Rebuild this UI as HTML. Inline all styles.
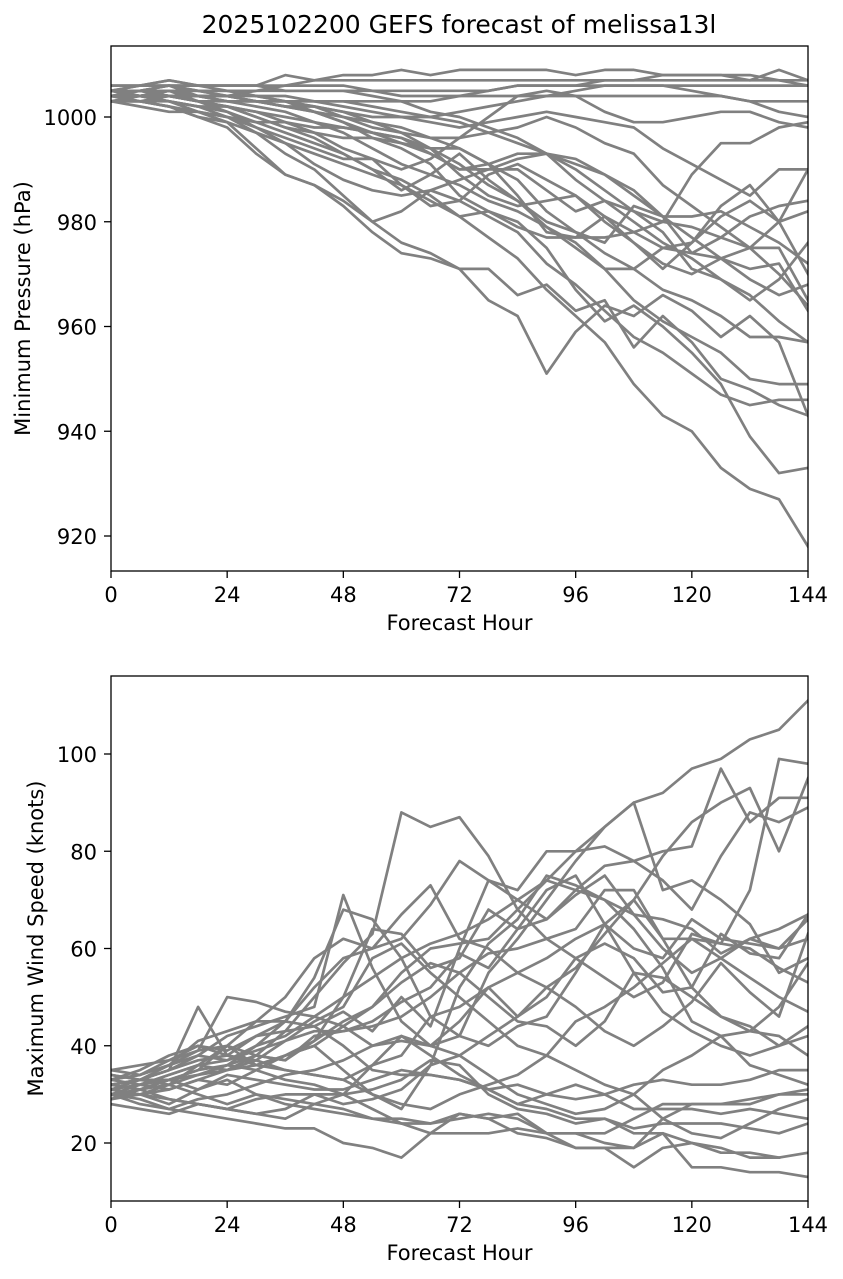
<!DOCTYPE html>
<html><head><meta charset="utf-8">
<style>
body{margin:0;background:#fff;}
svg{display:block;font-family:"DejaVu Sans","Liberation Sans",sans-serif;}
</style></head>
<body>
<svg id="chart" width="843" height="1279">
<text x="459" y="33" font-size="25" text-anchor="middle">2025102200 GEFS forecast of melissa13l</text>
</svg>
<script>
const hours=[0,6,12,18,24,30,36,42,48,54,60,66,72,78,84,90,96,102,108,114,120,126,132,138,144];
const hourTicks=[0,24,48,72,96,120,144];
const presTicks=[920,940,960,980,1000];
const windTicks=[20,40,60,80,100];
const presMembers=[
[1004,1003,1002,1000,999,997,995,993,991,989,987,984,981,977,973,967,962,957,949,943,940,933,929,927,918],
[1004,1003,1002,1000,998,993,989,987,983,978,974,973,971,965,962,951,959,964,962,966,963,958,962,957,943],
[1005,1004,1003,1002,1000,997,993,990,985,980,982,986,984,981,978,972,968,963,958,955,951,947,945,946,946],
[1003,1002,1001,1001,999,994,989,987,984,980,976,974,971,971,966,968,963,965,956,962,957,950,948,945,943],
[1005,1004,1005,1003,1002,1000,998,996,993,990,988,985,981,982,980,975,967,961,964,960,955,949,939,932,933],
[1004,1005,1006,1004,1003,1002,1001,999,997,994,991,989,987,984,982,979,975,971,965,961,958,955,950,949,949],
[1005,1006,1007,1006,1005,1004,1003,1001,999,997,995,993,990,990,992,993,988,984,980,976,973,969,966,961,957],
[1004,1005,1006,1005,1004,1003,1003,1002,1000,998,997,996,996,997,998,1000,998,995,993,987,983,979,975,970,964],
[1003,1004,1005,1005,1004,1004,1004,1003,1003,1002,1001,1000,999,997,995,993,991,989,985,981,977,973,969,966,968],
[1005,1005,1004,1003,1002,1000,998,997,996,996,995,994,994,991,985,978,977,981,978,975,974,977,981,983,984],
[1004,1004,1003,1002,1001,999,997,995,993,990,986,989,993,988,984,980,978,976,983,981,981,982,979,976,972],
[1005,1006,1006,1005,1005,1004,1003,1002,1001,999,997,994,989,985,983,984,985,981,976,972,970,973,975,980,982],
[1006,1006,1007,1006,1006,1006,1005,1005,1005,1004,1003,1001,1000,998,996,993,990,986,982,978,971,969,965,969,976],
[1003,1003,1003,1002,1002,1001,1000,999,998,997,996,994,991,987,984,979,976,971,971,975,976,983,987,980,990],
[1004,1004,1004,1003,1003,1003,1002,1001,1000,999,998,996,994,991,988,982,978,974,971,967,965,962,958,958,957],
[1005,1005,1005,1004,1004,1003,1003,1003,1002,1001,1000,999,998,999,1000,1001,1000,999,998,994,991,988,985,990,990],
[1004,1004,1005,1005,1005,1005,1006,1006,1006,1005,1004,1004,1004,1005,1006,1006,1006,1007,1007,1007,1007,1007,1007,1007,1007],
[1006,1006,1006,1006,1006,1006,1006,1007,1007,1007,1007,1007,1007,1007,1007,1007,1007,1007,1007,1008,1008,1008,1007,1009,1007],
[1005,1005,1006,1006,1006,1006,1008,1007,1008,1008,1009,1008,1009,1009,1009,1009,1008,1009,1009,1008,1008,1008,1008,1007,1006],
[1004,1004,1004,1004,1003,1003,1003,1003,1003,1003,1003,1003,1004,1004,1004,1004,1004,1004,1004,1004,1004,1004,1003,1003,1003],
[1003,1003,1004,1004,1004,1005,1005,1005,1005,1005,1005,1005,1005,1005,1006,1006,1006,1006,1006,1006,1006,1006,1006,1006,1006],
[1004,1004,1004,1003,1002,1001,999,997,994,992,990,992,996,1000,1004,1005,1004,1001,999,999,1000,1001,1001,999,998],
[1005,1004,1003,1001,1000,998,996,994,992,992,987,983,984,989,991,988,985,980,976,971,976,981,984,980,970],
[1003,1003,1002,1001,1000,999,999,998,998,997,996,993,990,991,993,993,992,989,986,981,974,973,971,972,963],
[1005,1005,1004,1004,1003,1003,1002,1002,1001,1000,1000,1000,1001,1002,1003,1004,1005,1006,1006,1006,1005,1004,1003,1001,1000],
[1004,1004,1005,1004,1004,1003,1002,1001,999,996,994,991,985,982,979,977,977,977,978,980,979,977,975,975,965],
[1005,1005,1004,1003,1001,998,995,991,988,986,985,986,988,990,990,986,982,984,982,980,989,995,995,998,999]
];
const windMembers=[
[32,33,35,38,37,40,42,46,50,54,58,61,63,66,70,74,80,85,90,92,97,99,103,105,111],
[30,32,34,36,35,38,43,50,57,63,88,85,87,79,68,62,58,54,50,53,63,61,60,56,53],
[33,34,37,40,39,42,45,52,58,60,62,69,78,74,70,66,71,75,67,60,55,58,62,60,66],
[29,31,33,35,40,45,50,58,62,60,67,73,62,60,55,52,48,43,40,44,49,57,51,46,63],
[35,34,36,38,42,44,46,48,71,56,45,40,42,55,62,70,78,85,90,72,74,70,65,55,58],
[31,30,28,31,33,30,29,28,27,25,24,24,26,25,26,22,22,20,19,25,28,28,28,30,31],
[30,29,27,26,25,24,23,23,20,19,17,22,26,25,22,21,19,19,15,19,20,18,18,17,18],
[28,27,26,28,27,26,27,30,30,27,24,22,22,22,23,22,19,19,19,22,15,15,14,14,13],
[34,33,32,30,28,30,28,27,26,25,25,24,25,26,25,22,22,22,25,28,28,28,29,30,30],
[31,30,29,28,27,29,30,30,28,29,31,36,38,42,46,52,56,63,70,79,86,90,93,80,95],
[33,35,38,40,38,42,43,44,47,43,50,44,60,74,72,80,80,81,78,74,68,79,88,86,89],
[35,36,37,39,40,36,38,41,50,64,63,56,58,68,64,66,72,77,78,80,81,97,86,91,91],
[32,33,33,35,36,38,37,42,43,45,49,52,59,56,64,72,75,65,70,62,62,61,72,99,98],
[29,31,32,34,36,40,45,54,68,66,58,46,42,40,44,46,55,65,60,58,66,62,61,60,62],
[30,31,33,34,35,36,38,40,44,48,55,60,61,62,68,74,72,70,67,66,64,59,62,64,67],
[31,32,34,36,37,39,41,43,43,44,46,50,55,59,60,62,64,72,72,62,52,46,44,40,44],
[33,32,31,33,32,35,38,40,35,30,28,27,30,32,34,38,45,48,52,57,62,58,54,50,47],
[30,28,27,29,30,32,34,35,37,40,42,40,38,34,30,28,26,27,30,35,38,42,36,34,32],
[32,31,33,31,34,33,32,31,31,33,35,34,33,31,32,30,29,30,32,33,32,32,33,35,35],
[34,33,35,48,38,36,35,34,33,36,42,38,34,31,28,30,32,30,27,27,27,26,27,26,25],
[30,31,29,28,27,26,25,28,30,36,38,46,48,52,55,58,62,65,55,47,43,40,38,40,42],
[29,30,32,36,40,38,37,41,45,48,53,57,55,50,45,44,40,45,55,54,50,46,43,42,38],
[31,33,36,41,43,45,45,44,40,35,34,34,33,31,28,27,25,25,23,24,24,24,23,22,24],
[33,34,36,39,50,49,47,46,44,40,41,40,45,52,46,50,58,61,58,51,52,63,59,58,67],
[32,33,35,37,38,37,35,34,33,30,27,36,52,61,66,75,73,70,64,56,45,42,43,48,57],
[31,32,33,34,36,35,33,32,30,31,33,37,36,30,27,26,24,25,22,22,20,19,17,17,null],
[30,30,31,33,35,37,41,45,48,58,61,55,50,45,40,38,35,32,30,25,22,21,24,27,29]
];

const NS="http://www.w3.org/2000/svg";
const svg=document.getElementById('chart');
function mk(tag,attrs,parent){const e=document.createElementNS(NS,tag);for(const k in attrs)e.setAttribute(k,attrs[k]);(parent||svg).appendChild(e);return e;}

function panel(cfg){
  const {top,bottom,y0,y1,py0,py1,ticks,members,ylabel,prefix}=cfg;
  const L=111,R=808;
  const x=h=>L+(h-0)*(R-L)/144;
  const y=v=>py0+(v-y0)*(py1-py0)/(y1-y0);
  const g=mk('g',{});
  
  
  const clip=mk('clipPath',{id:prefix+'clip'},g);
  mk('rect',{x:L,y:top,width:R-L,height:bottom-top},clip);
  const lines=mk('g',{'clip-path':'url(#'+prefix+'clip)'},g);
  members.forEach((m,i)=>{
    let d='';let pen=false;
    m.forEach((v,j)=>{if(v===null){pen=false;return;}d+=(pen?'L':'M')+x(hours[j]).toFixed(1)+','+y(v).toFixed(1);pen=true;});
    const p=mk('path',{d:d,fill:'none',stroke:'#808080','stroke-width':2.7,'stroke-linejoin':'round','stroke-linecap':'square'},lines);
    
    
  });
  const frame=mk('rect',{x:L,y:top,width:R-L,height:bottom-top,fill:'none',stroke:'#000','stroke-width':1.3},g);
  
  
  hourTicks.forEach(h=>{
    mk('line',{x1:x(h),x2:x(h),y1:bottom,y2:bottom+7,stroke:'#000','stroke-width':1.3},g);
    const t=mk('text',{x:x(h),y:bottom+31,'font-size':21,'text-anchor':'middle'},g);
    t.textContent=h;
    
    
  });
  ticks.forEach(v=>{
    mk('line',{x1:L-7,x2:L,y1:y(v),y2:y(v),stroke:'#000','stroke-width':1.3},g);
    const t=mk('text',{x:L-14,y:y(v)+8,'font-size':21,'text-anchor':'end'},g);
    t.textContent=v;
    
    
  });
  const xt=mk('text',{x:(L+R)/2,y:bottom+59,'font-size':21,'text-anchor':'middle'},g);
  xt.textContent='Forecast Hour';
  
  
  const cy=(top+bottom)/2;
  const yt=mk('text',{x:cfg.ylx,y:cy,'font-size':21,'text-anchor':'middle',transform:'rotate(-90 '+cfg.ylx+' '+cy+')'},g);
  yt.textContent=ylabel;
  
  
}
panel({top:46,bottom:571,y0:1000,y1:920,py0:117,py1:536,ticks:presTicks,members:presMembers,ylabel:'Minimum Pressure (hPa)',prefix:'pressure',ylx:30});
panel({top:676,bottom:1201,y0:100,y1:20,py0:754,py1:1143,ticks:windTicks,members:windMembers,ylabel:'Maximum Wind Speed (knots)',prefix:'wind',ylx:43});
</script>
</body></html>
